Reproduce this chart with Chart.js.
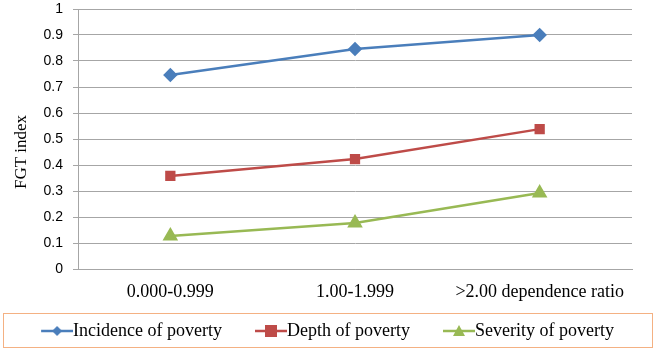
<!DOCTYPE html>
<html>
<head>
<meta charset="utf-8">
<script src="https://cdn.jsdelivr.net/npm/chart.js@4/dist/chart.umd.min.js"></script>
<style>
  html, body { margin: 0; padding: 0; background: #fff; }
  #wrap { width: 657px; height: 350px; }
</style>
</head>
<body>
<div id="wrap"><canvas id="fgtChart" width="657" height="350"></canvas></div>
<script>
const categories = ["0.000-0.999", "1.00-1.999", ">2.00 dependence ratio"];
const incidence = [0.746, 0.846, 0.900];
const depth = [0.358, 0.423, 0.538];
const severity = [0.127, 0.177, 0.292];
const yTicks = [0, 0.1, 0.2, 0.3, 0.4, 0.5, 0.6, 0.7, 0.8, 0.9, 1];

const BLUE = "#4A7EBB";
const RED = "#BE4B48";
const GREEN = "#98B954";

// line+marker picture for the legend, icon sits in the right 32px
function legendIcon(color, style) {
    const c = document.createElement("canvas");
    c.width = 64;
    c.height = 14;
    const g = c.getContext("2d");
    const x0 = 32;
    const mid = x0 + 16;
    g.strokeStyle = color;
    g.lineWidth = 2.5;
    g.beginPath();
    g.moveTo(x0, 7);
    g.lineTo(64, 7);
    g.stroke();
    g.fillStyle = color;
    g.beginPath();
    if (style === "diamond") {
        g.moveTo(mid, 2); g.lineTo(mid + 5, 7); g.lineTo(mid, 12); g.lineTo(mid - 5, 7);
    } else if (style === "square") {
        g.rect(mid - 6, 1, 12, 12);
    } else {
        g.moveTo(mid, 1); g.lineTo(mid + 6, 12); g.lineTo(mid - 6, 12);
    }
    g.closePath();
    g.fill();
    return c;
}

const icons = [legendIcon(BLUE, "diamond"), legendIcon(RED, "square"), legendIcon(GREEN, "triangle")];

const frame = {
    id: "frame",
    afterDraw(chart) {
        const lg = chart.legend;
        const ctx = chart.ctx;
        ctx.save();
        ctx.strokeStyle = "#F4B183";
        ctx.lineWidth = 1;
        ctx.strokeRect(3.5, lg.top + 1.5, 649, lg.height - 4);
        // y axis title
        ctx.translate(22, 152);
        ctx.rotate(-Math.PI / 2);
        ctx.fillStyle = "#000";
        ctx.font = "17px 'Liberation Serif'";
        ctx.textAlign = "center";
        ctx.textBaseline = "middle";
        ctx.fillText("FGT index", 0, 0);
        ctx.restore();
    }
};

const ctx = document.getElementById("fgtChart").getContext("2d");

new Chart(ctx, {
    type: "line",
    data: {
        labels: categories,
        datasets: [
            {
                label: "Incidence of poverty",
                data: incidence,
                borderColor: BLUE,
                backgroundColor: BLUE,
                pointStyle: "rectRot",
                pointRadius: 5.5,
                borderWidth: 2.5
            },
            {
                label: "Depth of poverty",
                data: depth,
                borderColor: RED,
                backgroundColor: RED,
                pointStyle: "rect",
                pointRadius: 5.5,
                borderWidth: 2.5
            },
            {
                label: "Severity of poverty",
                data: severity,
                borderColor: GREEN,
                backgroundColor: GREEN,
                pointStyle: "triangle",
                pointRadius: 6.5,
                borderWidth: 2.5
            }
        ]
    },
    options: {
        responsive: false,
        animation: false,
        layout: { padding: { top: 0, right: 25, left: 0, bottom: 0 } },
        plugins: {
            tooltip: { enabled: false },
            legend: {
                position: "bottom",
                labels: {
                    usePointStyle: true,
                    pointStyleWidth: 46,
                    padding: 10,
                    color: "#000",
                    font: { family: "Liberation Serif", size: 18 },
                    generateLabels(chart) {
                        return chart.data.datasets.map((ds, i) => ({
                            text: ds.label,
                            pointStyle: icons[i],
                            fillStyle: ds.borderColor,
                            strokeStyle: ds.borderColor,
                            lineWidth: 0,
                            datasetIndex: i,
                            fontColor: "#000"
                        }));
                    }
                }
            }
        },
        scales: {
            x: {
                offset: true,
                grid: { display: false, drawTicks: false },
                border: { color: "#A6A6A6", width: 1 },
                ticks: {
                    color: "#000",
                    padding: 12,
                    maxRotation: 0,
                    font: { family: "Liberation Serif", size: 18 }
                },
                afterFit(scale) { scale.height = 43; }
            },
            y: {
                min: 0,
                max: 1,
                afterBuildTicks(scale) {
                    scale.ticks = yTicks.map(v => ({ value: v }));
                },
                grid: { color: "#A6A6A6", tickLength: 5, drawTicks: true },
                border: { color: "#A6A6A6", width: 1 },
                ticks: {
                    color: "#000",
                    padding: 10,
                    font: { family: "Liberation Sans", size: 14 },
                    callback: v => String(Math.round(v * 10) / 10)
                },
                afterFit(scale) {
                    scale.width = 78;
                    scale.paddingTop = 8;
                    scale.paddingBottom = 0;
                }
            }
        }
    },
    plugins: [frame]
});
</script>
</body>
</html>
